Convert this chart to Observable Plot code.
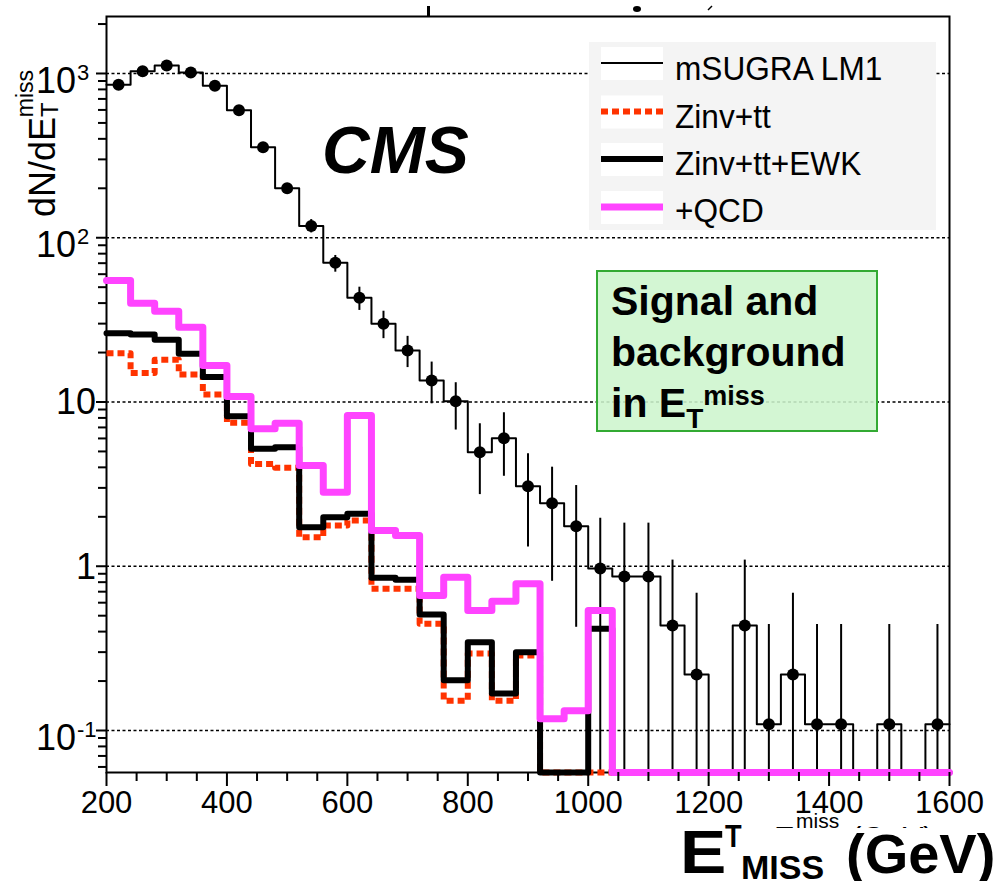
<!DOCTYPE html>
<html>
<head>
<meta charset="utf-8">
<script src="https://cdn.jsdelivr.net/npm/d3@7"></script>
<script src="https://cdn.jsdelivr.net/npm/@observablehq/plot@0.6"></script>
<style>
  html, body { margin: 0; padding: 0; background: #fff; }
  #chart { width: 1001px; height: 881px; }
</style>
</head>
<body>
<div id="chart"></div>
<script>
// ---------------- data ----------------
const binLow = [200,240,280,320,360,400,440,480,520,560,600,640,680,720,760,800,840,880,920,960,
                1000,1040,1080,1120,1160,1200,1240,1280,1320,1360,1400,1440,1480,1520,1560];
const binWidth = 40;
const xMax = 1600;

// mSUGRA LM1 (points with error bars, thin step histogram)
const lm1 =        [854,1033,1119,1014,841,598,356,200,118,70.4,43.1,29.9,20.6,13.5,10.1,4.95,6.02,3.07,2.42,1.75,
                    0.97,0.866,0.866,0.436,0.219,0,0.436,0.109,0.219,0.109,0.109,0,0.109,0,0.109];
const lm1ErrLow =  [826,1001,1086,983,814,576,338,186,107,61.7,36.1,24.3,16.2,9.75,6.75,2.73,3.53,1.31,0.81,0.425,
                    0,0,0,0,0,0,0,0,0,0,0,0,0,0,0];
const lm1ErrHigh = [882,1065,1152,1045,868,620,374,214,129,78,50,35.7,25.1,17.5,13.1,7.37,8.6,4.84,4.01,3.10,
                    1.96,1.83,1.83,1.09,0.685,0,1.09,0.442,0.685,0.442,0.442,0,0.442,0,0.442];

// backgrounds
const zinvTT =     [19.8,15.0,18.1,14.7,11.1,7.47,4.2,3.98,1.5,1.77,1.9,0.73,0.73,0.446,0.152,0.294,0.152,0.286,0,0,
                    0,0,0,0,0,0,0,0,0,0,0,0,0,0,0];
const zinvTTEWK =  [26.2,25.8,23.9,19.7,14.2,8.2,5.19,5.31,1.73,1.99,2.09,0.85,0.827,0.508,0.202,0.345,0.168,0.30,0,0,
                    0.416,0,0,0,0,0,0,0,0,0,0,0,0,0,0];
const plusQCD =    [54.9,39.9,35.7,28.5,16.7,10.8,6.87,7.43,4.11,2.82,8.28,1.65,1.54,0.664,0.858,0.538,0.613,0.782,0.118,0.132,
                    0.538,0,0,0,0,0,0,0,0,0,0,0,0,0,0];

// axes
const xTicks = [200,400,600,800,1000,1200,1400,1600];
const xMinorTicks = [250,300,350,450,500,550,650,700,750,850,900,950,1050,1100,1150,1250,1300,1350,1450,1500,1550];
const yTicks = [0.1, 1, 10, 100, 1000];
const yTickBase = ["10", "1", "10", "10", "10"];
const yTickExp  = ["-1", "", "", "2", "3"];
const yMinorTicks = [0.06,0.07,0.08,0.09,0.2,0.3,0.4,0.5,0.6,0.7,0.8,0.9,2,3,4,5,6,7,8,9,
                     20,30,40,50,60,70,80,90,200,300,400,500,600,700,800,900,2000];
const yDomain = [0.0555, 2223];

const legendLabels = ["mSUGRA LM1", "Zinv+tt", "Zinv+tt+EWK", "+QCD"];
const boxLines = ["Signal and", "background", "in E"];

// ---------------- helpers ----------------
const yFloor = yDomain[0];
const safe = v => (v > 0 ? v : yFloor);
function steps(series) {
  const pts = binLow.map((x, i) => ({x, y: safe(series[i])}));
  pts.push({x: xMax, y: safe(series[series.length - 1])});
  return pts;
}
const lm1Points = binLow.map((x, i) => ({x: x + binWidth / 2, y: lm1[i], lo: safe(lm1ErrLow[i]), hi: lm1ErrHigh[i]}))
                        .filter(d => d.y > 0);

const FONT = "'Liberation Sans', Arial, Helvetica, sans-serif";

const plot = Plot.plot({
  width: 1001,
  height: 881,
  marginLeft: 106,
  marginRight: 52,
  marginTop: 16,
  marginBottom: 109,
  style: {fontFamily: FONT, background: "white", overflow: "visible"},
  x: {domain: [200, xMax]},
  y: {type: "log", domain: yDomain},
  marks: [
    Plot.ruleY(yTicks, {stroke: "black", strokeWidth: 1.6, strokeDasharray: "3,2.5"}),
    Plot.frame({stroke: "black", strokeWidth: 2}),
    // LM1
    Plot.line(steps(lm1), {x: "x", y: "y", curve: "step-after", stroke: "black", strokeWidth: 2}),
    Plot.ruleX(lm1Points, {x: "x", y1: "lo", y2: "hi", stroke: "black", strokeWidth: 2}),
    Plot.dot(lm1Points, {x: "x", y: "y", r: 6, fill: "black", stroke: "none"}),
    // backgrounds
    Plot.line(steps(zinvTT), {x: "x", y: "y", curve: "step-after", stroke: "#ff3300", strokeWidth: 6, strokeDasharray: "7,4", strokeLinecap: "butt"}),
    Plot.line(steps(zinvTTEWK), {x: "x", y: "y", curve: "step-after", stroke: "black", strokeWidth: 6}),
    Plot.line(steps(plusQCD), {x: "x", y: "y", curve: "step-after", stroke: "#ff44ff", strokeWidth: 7}),
    // axes
    Plot.axisY(yTicks, {tickSize: 10, tickFormat: () => "", strokeWidth: 2, label: null}),
    Plot.axisY(yMinorTicks, {tickSize: 8, tickFormat: () => "", strokeWidth: 2, label: null}),
    Plot.axisX(xTicks, {tickSize: 14, tickFormat: () => "", strokeWidth: 2, label: null}),
    Plot.axisX(xMinorTicks, {tickSize: 9, tickFormat: () => "", strokeWidth: 2, label: null}),
    Plot.text(xTicks, {x: d => d, frameAnchor: "bottom", lineAnchor: "top", dy: 18, text: d => String(d),
                       fontSize: 31, fill: "black", fontFamily: FONT})
  ]
});
document.getElementById("chart").appendChild(plot);

// ---------------- overlays ----------------
const svg = d3.select(plot);
const ys = plot.scale("y");
const g = svg.append("g").attr("font-family", FONT).attr("fill", "black").attr("text-anchor", "start");

function txt(parent, x, y, s, opts = {}) {
  const t = parent.append("text")
    .attr("transform", `translate(${x},${y}) scale(${opts.sx || 1},1)`)
    .attr("font-size", opts.size || 30)
    .attr("text-anchor", opts.anchor || "start");
  if (opts.weight) t.attr("font-weight", opts.weight);
  if (opts.style) t.attr("font-style", opts.style);
  if (s !== null) t.text(s);
  return t;
}

// y tick labels
yTicks.forEach((v, i) => {
  const ty = ys.apply(v);
  if (yTickExp[i]) {
    txt(g, 76, ty + 20, yTickBase[i], {size: 36, anchor: "end"});
    txt(g, 77, ty + 7, yTickExp[i], {size: 22});
  } else {
    txt(g, 96, ty + 13, yTickBase[i], {size: 36, anchor: "end"});
  }
});

// y axis title
{
  const t = g.append("text").attr("transform", "translate(55,217) rotate(-90)")
    .attr("font-size", 36).attr("text-anchor", "start");
  t.append("tspan").text("dN/dE");
  t.append("tspan").attr("font-size", 24).attr("dy", 3).text("T");
  t.append("tspan").attr("font-size", 23).attr("dx", -15).attr("dy", -25).text("miss");
}

// ghost (partly covered) original axis title
{
  const defs = svg.append("defs");
  defs.append("clipPath").attr("id", "ghostclip").append("rect")
    .attr("x", 0).attr("y", 0).attr("width", 1001).attr("height", 828);
  const gg = g.append("g").attr("clip-path", "url(#ghostclip)");
  txt(gg, 774, 849, "E", {size: 31});
  txt(gg, 796, 828, "miss", {size: 21});
  txt(gg, 851, 849, "(GeV)", {size: 31});
}

// x axis title
txt(g, 680, 873, "E", {size: 62, weight: "bold", sx: 1.12});
txt(g, 725, 847, "T", {size: 32, weight: "bold", sx: 0.85});
txt(g, 741, 879, "MISS", {size: 34, weight: "bold"});
txt(g, 846, 873, "(GeV)", {size: 56, weight: "bold"});

// CMS
txt(g, 322, 173, "CMS", {size: 66, weight: "bold", style: "italic"});

// legend
{
  const lg = g.append("g");
  lg.append("rect").attr("x", 589).attr("y", 42).attr("width", 347).attr("height", 188).attr("fill", "#f4f4f4");
  const rows = [63, 111.5, 159, 207];
  const base = [80, 127.5, 175, 222];
  const styles = [
    {stroke: "black", w: 2, dash: null},
    {stroke: "#ff3300", w: 6, dash: "7,4"},
    {stroke: "black", w: 6, dash: null},
    {stroke: "#ff44ff", w: 7, dash: null}
  ];
  legendLabels.forEach((lab, i) => {
    lg.append("rect").attr("x", 601).attr("y", rows[i] - 16).attr("width", 62).attr("height", 33).attr("fill", "white");
    const l = lg.append("line").attr("x1", 601).attr("x2", 663).attr("y1", rows[i]).attr("y2", rows[i])
      .attr("stroke", styles[i].stroke).attr("stroke-width", styles[i].w);
    if (styles[i].dash) l.attr("stroke-dasharray", styles[i].dash);
    txt(lg, 675, base[i], lab, {size: 34, sx: 0.93});
  });
}

// green annotation box
{
  const bg = g.append("g");
  bg.append("rect").attr("x", 597).attr("y", 271).attr("width", 280).attr("height", 160)
    .attr("fill", "#cdf5cd").attr("fill-opacity", 0.88).attr("stroke", "#33aa33").attr("stroke-width", 2);
  txt(bg, 611, 315, boxLines[0], {size: 41, weight: "bold"});
  txt(bg, 611, 366, boxLines[1], {size: 41, weight: "bold"});
  const t = txt(bg, 611, 417, null, {size: 41, weight: "bold"});
  t.append("tspan").text(boxLines[2]);
  t.append("tspan").attr("font-size", 28).attr("dy", 11).text("T");
  t.append("tspan").attr("font-size", 27).attr("dy", -23).text("miss");
}

// remnants of a cropped title at the very top
{
  const rg = g.append("g").attr("fill", "black");
  rg.append("rect").attr("x", 427).attr("y", 6).attr("width", 3).attr("height", 10);
  rg.append("ellipse").attr("cx", 637).attr("cy", 9).attr("rx", 4).attr("ry", 3);
  rg.append("line").attr("x1", 708).attr("y1", 10).attr("x2", 712).attr("y2", 6).attr("stroke", "black").attr("stroke-width", 1.5);
}
</script>
</body>
</html>
